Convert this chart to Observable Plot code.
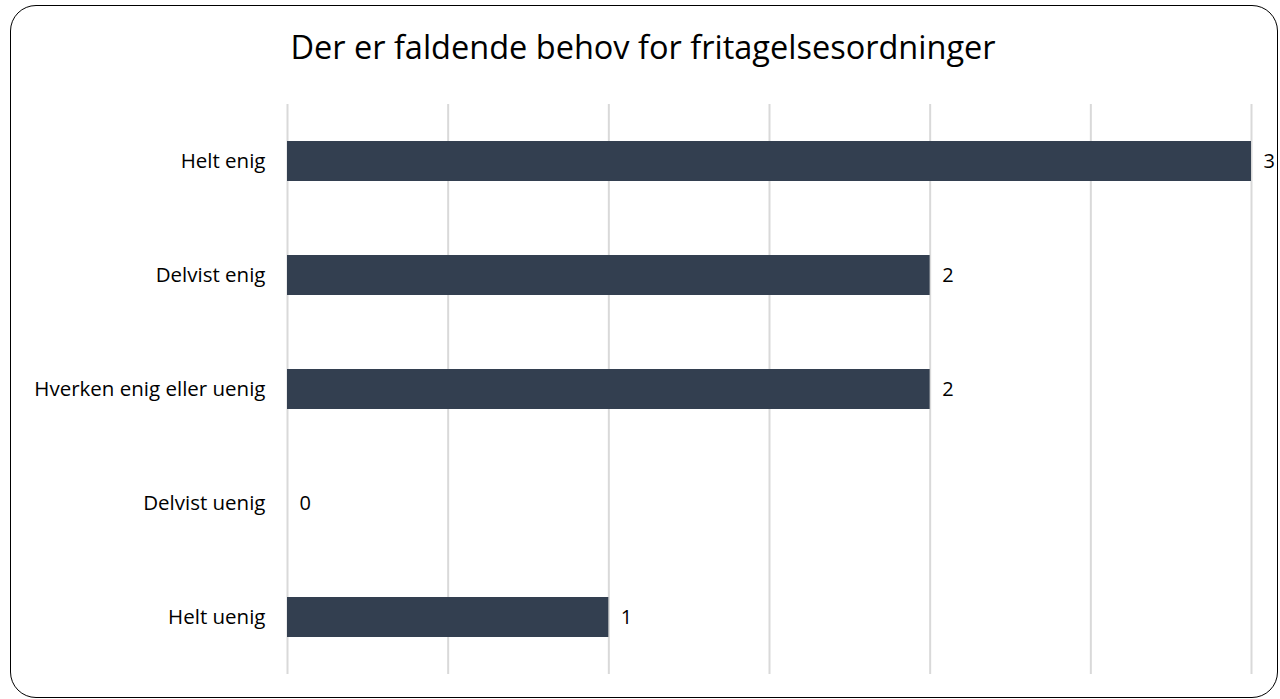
<!DOCTYPE html>
<html>
<head>
<meta charset="utf-8">
<script src="https://cdn.jsdelivr.net/npm/d3@7"></script>
<script src="https://cdn.jsdelivr.net/npm/@observablehq/plot@0.6"></script>
<style>
  html, body { margin: 0; padding: 0; background: #fff; }
  #wrap { position: relative; width: 1280px; height: 699px; overflow: hidden; font-family: "Open Sans", sans-serif; }
  #box { position: absolute; left: 10px; top: 5px; width: 1268px; height: 693px; border: 1.5px solid #000; border-radius: 26px; box-sizing: border-box; }
  #title { position: absolute; left: 3px; width: 1280px; top: 27px; text-align: center; font-size: 32.5px; color: #000; line-height: 1.2; }
  #chart { position: absolute; left: 0; top: 0; }
</style>
</head>
<body>
<div id="wrap">
  <div id="box"></div>
  <div id="title">Der er faldende behov for fritagelsesordninger</div>
  <div id="chart"></div>
</div>
<script>
const categories = ["Helt enig", "Delvist enig", "Hverken enig eller uenig", "Delvist uenig", "Helt uenig"];
const values = [3, 2, 2, 0, 1];
const xTicks = [0, 0.5, 1, 1.5, 2, 2.5, 3];

const data = categories.map((c, i) => ({category: c, value: values[i]}));

const plot = Plot.plot({
  width: 1280,
  height: 699,
  marginLeft: 287,
  marginRight: 29,
  marginTop: 104,
  marginBottom: 25,
  style: {fontFamily: "Open Sans, sans-serif", fontSize: "20px", background: "transparent", overflow: "visible"},
  x: {domain: [0, 3], ticks: xTicks, axis: null},
  y: {domain: categories, paddingInner: 0.65, paddingOuter: 0.325, axis: null},
  marks: [
    Plot.ruleX(xTicks, {stroke: "#d9d9d9", strokeWidth: 2}),
    Plot.barX(data, {x: "value", y: "category", fill: "#333F50"}),
    Plot.text(data, {x: "value", y: "category", text: d => String(d.value), textAnchor: "start", dx: 12, fill: "#000", fontSize: 20}),
    Plot.text(data, {x: 0, y: "category", text: "category", textAnchor: "end", dx: -22, fill: "#000", fontSize: 20.5})
  ]
});
document.getElementById("chart").appendChild(plot);
</script>
</body>
</html>
